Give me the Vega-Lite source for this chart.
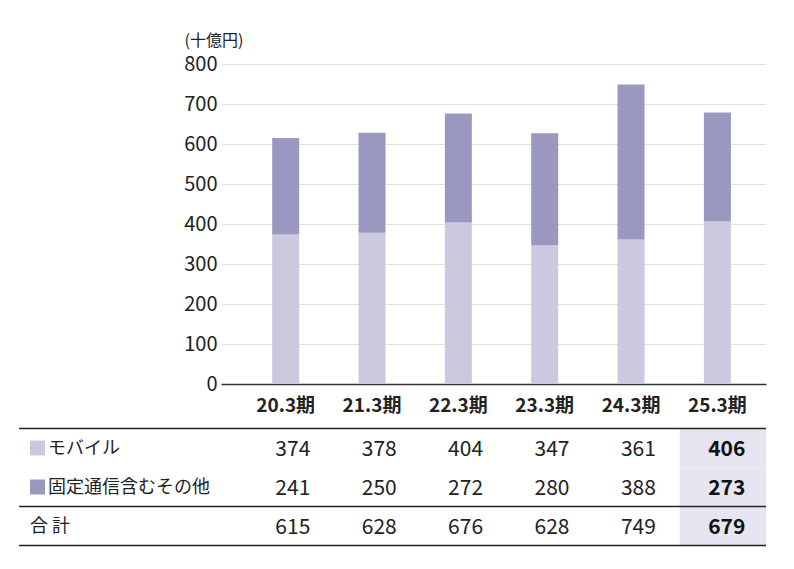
{
  "$schema": "https://vega.github.io/schema/vega-lite/v6.json",
  "padding": {"top": 32, "left": 18, "right": 5, "bottom": 5},
  "background": "white",
  "config": {"font": "Noto Sans CJK JP", "view": {"stroke": null}},
  "spacing": {"row": 44.5, "column": 0},
  "columns": 2,
  "bounds": "flush",
  "resolve": {"scale": {"x": "independent", "y": "independent"}},
  "datasets": {
    "fin": [
      {"period": "20.3期", "row": "モバイル", "value": 374},
      {"period": "21.3期", "row": "モバイル", "value": 378},
      {"period": "22.3期", "row": "モバイル", "value": 404},
      {"period": "23.3期", "row": "モバイル", "value": 347},
      {"period": "24.3期", "row": "モバイル", "value": 361},
      {"period": "25.3期", "row": "モバイル", "value": 406},
      {"period": "20.3期", "row": "固定通信含むその他", "value": 241},
      {"period": "21.3期", "row": "固定通信含むその他", "value": 250},
      {"period": "22.3期", "row": "固定通信含むその他", "value": 272},
      {"period": "23.3期", "row": "固定通信含むその他", "value": 280},
      {"period": "24.3期", "row": "固定通信含むその他", "value": 388},
      {"period": "25.3期", "row": "固定通信含むその他", "value": 273},
      {"period": "20.3期", "row": "合 計", "value": 615},
      {"period": "21.3期", "row": "合 計", "value": 628},
      {"period": "22.3期", "row": "合 計", "value": 676},
      {"period": "23.3期", "row": "合 計", "value": 628},
      {"period": "24.3期", "row": "合 計", "value": 749},
      {"period": "25.3期", "row": "合 計", "value": 679}
    ]
  },
  "concat": [
    {
      "width": 202,
      "height": 320,
      "data": {"values": []},
      "mark": {"type": "point"},
      "encoding": {}
    },
    {
      "width": 545,
      "height": 320,
      "data": {"name": "fin"},
      "transform": [{"filter": "datum.row !== '合 計'"}],
      "mark": {"type": "bar"},
      "encoding": {
        "x": {
          "field": "period", "type": "nominal", "sort": "ascending",
          "scale": {"paddingInner": 0.6875, "paddingOuter": 0.5, "align": 0.593},
          "axis": {"title": null, "labelAngle": 0, "labelFontSize": 19, "labelFontWeight": "bold", "labelColor": "#222", "labelPadding": 12, "ticks": false, "domainColor": "#333", "domainWidth": 1.5}
        },
        "y": {
          "field": "value", "type": "quantitative", "stack": "zero",
          "scale": {"domain": [0, 800], "nice": false},
          "axis": {
            "values": [0, 100, 200, 300, 400, 500, 600, 700, 800],
            "title": "(十億円)", "titleAngle": 0, "titleAlign": "left", "titleBaseline": "bottom",
            "titleX": -37, "titleY": -16, "titleFontSize": 16, "titleFontWeight": "normal", "titleColor": "#222",
            "labelFontSize": 20, "labelColor": "#222", "labelPadding": 4, "ticks": false, "domain": false,
            "gridColor": "#e0e0e0", "gridWidth": 1
          }
        },
        "color": {
          "field": "row", "type": "nominal",
          "scale": {"domain": ["モバイル", "固定通信含むその他"], "range": ["#cac9df", "#9a97c0"]},
          "legend": null
        },
        "order": {"field": "row", "sort": "ascending"}
      }
    },
    {
      "width": 202,
      "height": 117,
      "data": {"name": "fin"},
      "transform": [{"filter": "datum.period === '20.3期'"}],
      "encoding": {
        "y": {"field": "row", "type": "nominal", "sort": ["モバイル", "固定通信含むその他", "合 計"], "scale": {"paddingInner": 0, "paddingOuter": 0}, "axis": null}
      },
      "layer": [
        {
          "transform": [{"filter": "datum.row !== '固定通信含むその他'"}],
          "mark": {"type": "rule", "color": "#222", "strokeWidth": 1.3},
          "encoding": {"y": {"field": "row", "type": "nominal", "sort": ["モバイル", "固定通信含むその他", "合 計"], "bandPosition": 0}}
        },
        {
          "transform": [{"filter": "datum.row === '合 計'"}],
          "mark": {"type": "rule", "color": "#222", "strokeWidth": 1.3},
          "encoding": {"y": {"field": "row", "type": "nominal", "sort": ["モバイル", "固定通信含むその他", "合 計"], "bandPosition": 1}}
        },
        {
          "transform": [{"filter": "datum.row !== '合 計'"}],
          "mark": {"type": "square", "filled": true, "size": 225, "opacity": 1},
          "encoding": {
            "x": {"value": 18.5},
            "color": {"field": "row", "type": "nominal", "legend": null}
          }
        },
        {
          "transform": [{"filter": "datum.row !== '合 計'"}],
          "mark": {"type": "text", "align": "left", "baseline": "middle", "fontSize": 18, "color": "#222", "dy": 1},
          "encoding": {"x": {"value": 29}, "text": {"field": "row"}}
        },
        {
          "transform": [{"filter": "datum.row === '合 計'"}],
          "mark": {"type": "text", "align": "left", "baseline": "middle", "fontSize": 18, "color": "#222", "dy": 1},
          "encoding": {"x": {"value": 11}, "text": {"field": "row"}}
        }
      ]
    },
    {
      "width": 545,
      "height": 117,
      "data": {"name": "fin"},
      "encoding": {
        "y": {"field": "row", "type": "nominal", "sort": ["モバイル", "固定通信含むその他", "合 計"], "scale": {"paddingInner": 0, "paddingOuter": 0}, "axis": null}
      },
      "layer": [
        {
          "transform": [{"filter": "datum.period === '25.3期'"}],
          "mark": {"type": "rect", "color": "#e6e5f1"},
          "encoding": {
            "x": {"field": "period", "type": "nominal", "sort": "ascending", "scale": {"paddingInner": 0, "paddingOuter": 0.154, "align": 1}, "axis": null}
          }
        },
        {
          "transform": [{"filter": "datum.period === '20.3期' && datum.row !== '固定通信含むその他'"}],
          "mark": {"type": "rule", "color": "#222", "strokeWidth": 1.3},
          "encoding": {"y": {"field": "row", "type": "nominal", "sort": ["モバイル", "固定通信含むその他", "合 計"], "bandPosition": 0}}
        },
        {
          "transform": [{"filter": "datum.period === '20.3期' && datum.row === '合 計'"}],
          "mark": {"type": "rule", "color": "#222", "strokeWidth": 1.3},
          "encoding": {"y": {"field": "row", "type": "nominal", "sort": ["モバイル", "固定通信含むその他", "合 計"], "bandPosition": 1}}
        },
        {
          "transform": [{"filter": "datum.period !== '25.3期'"}],
          "mark": {"type": "text", "align": "center", "baseline": "middle", "fontSize": 21, "color": "#222", "dx": 2, "dy": 2},
          "encoding": {
            "x": {"field": "period", "type": "nominal", "sort": "ascending", "scale": {"paddingInner": 0, "paddingOuter": 0.154, "align": 1}, "axis": null},
            "text": {"field": "value", "type": "quantitative"}
          }
        },
        {
          "transform": [{"filter": "datum.period === '25.3期'"}],
          "mark": {"type": "text", "align": "center", "baseline": "middle", "fontSize": 21, "fontWeight": "bold", "color": "#111", "dx": 4, "dy": 2},
          "encoding": {
            "x": {"field": "period", "type": "nominal", "sort": "ascending", "scale": {"paddingInner": 0, "paddingOuter": 0.154, "align": 1}, "axis": null},
            "text": {"field": "value", "type": "quantitative"}
          }
        }
      ]
    }
  ]
}
